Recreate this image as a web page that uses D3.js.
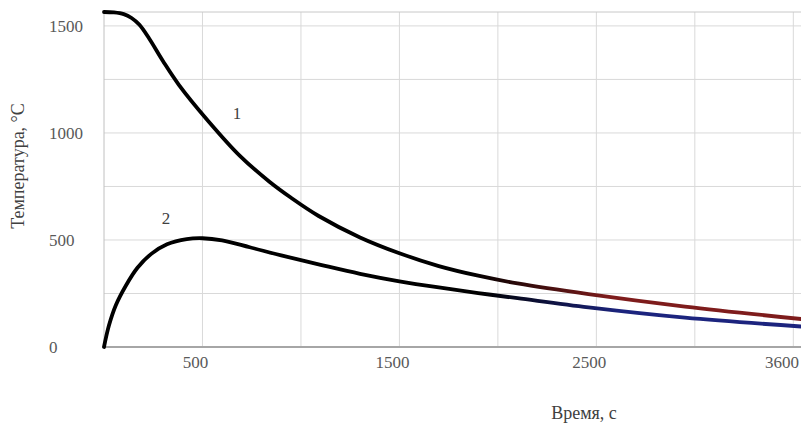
<!DOCTYPE html>
<html>
<head>
<meta charset="utf-8">
<script src="https://cdnjs.cloudflare.com/ajax/libs/d3/7.8.5/d3.min.js"></script>
<style>
  body { margin: 0; background: #fff; }
  text { font-family: "Liberation Serif", "Times New Roman", serif; }
  .grid line { stroke: #d9d9d9; stroke-width: 1; }
</style>
</head>
<body>
<div id="chart"></div>
<script>
    var width = 801,
        height = 427;

    // curve 1 and curve 2 (time in s, temperature in °C)
    var time1 = [0, 50, 100, 140, 180, 230, 300, 380, 530, 690, 840, 950, 1090, 1300, 1500, 1700, 1900, 2100, 2460, 2950, 3600];
    var temp1 = [1565, 1563, 1555, 1537, 1505, 1440, 1335, 1225, 1055, 893, 772, 697, 612, 512, 438, 378, 333, 297, 247, 189, 125];

    var time2 = [0, 25, 60, 110, 170, 240, 320, 420, 500, 600, 740, 900, 1100, 1300, 1500, 1700, 1900, 2100, 2460, 2950, 3600];
    var temp2 = [0, 100, 195, 285, 370, 435, 480, 504, 508, 498, 466, 428, 384, 342, 307, 278, 252, 228, 185, 137, 92];

    var xTicks = [500, 1500, 2500, 3600];
    var yTicks = [0, 500, 1000, 1500];
    var xGrid = [500, 1000, 1500, 2000, 2500, 3000, 3500];
    var yGrid = [250, 500, 750, 1000, 1250, 1500];

    var curveLabels = ["1", "2"];

    var x = d3.scaleLinear().domain([0, 3600]).range([104, 813]);
    var y = d3.scaleLinear().domain([0, 1565]).range([347, 12]);

    var svg = d3.select("#chart").append("svg")
      .attr("width", width)
      .attr("height", height);

    var defs = svg.append("defs");

    function fade(id, to, x1, x2) {
      var g = defs.append("linearGradient")
        .attr("id", id)
        .attr("gradientUnits", "userSpaceOnUse")
        .attr("x1", x1).attr("x2", x2)
        .attr("y1", 0).attr("y2", 0);
      g.append("stop").attr("offset", 0).attr("stop-color", "#000");
      g.append("stop").attr("offset", 1).attr("stop-color", to);
    }
    fade("red", "#7e1c1c", 470, 610);
    fade("blue", "#1c247e", 480, 620);

    // gridlines
    var grid = svg.append("g").attr("class", "grid");
    grid.selectAll(".v").data(xGrid).enter().append("line")
      .attr("x1", d => x(d)).attr("x2", d => x(d))
      .attr("y1", y.range()[1]).attr("y2", y.range()[0]);
    grid.selectAll(".h").data(yGrid).enter().append("line")
      .attr("x1", x(0)).attr("x2", width)
      .attr("y1", d => y(d)).attr("y2", d => y(d));

    // top border of the plot area
    svg.append("line")
      .attr("x1", x(0)).attr("x2", width)
      .attr("y1", 12).attr("y2", 12)
      .attr("stroke", "#c8c8c8");

    // left axis
    svg.append("line")
      .attr("x1", x(0)).attr("x2", x(0))
      .attr("y1", 12).attr("y2", y(0))
      .attr("stroke", "#c0c0c0");

    // bottom axis
    svg.append("line")
      .attr("x1", x(0)).attr("x2", width)
      .attr("y1", y(0)).attr("y2", y(0))
      .attr("stroke", "#a6a6a6")
      .attr("stroke-width", 2);

    // tick labels
    svg.selectAll(".ylab").data(yTicks).enter().append("text")
      .attr("x", 49)
      .attr("y", d => y(d))
      .attr("dy", "0.35em")
      .attr("fill", "#595959")
      .attr("font-size", 17)
      .text(d => d);

    svg.selectAll(".xlab").data(xTicks).enter().append("text")
      .attr("x", d => Math.min(x(d) - 7, 782))
      .attr("y", 362)
      .attr("dy", "0.35em")
      .attr("text-anchor", "middle")
      .attr("fill", "#595959")
      .attr("font-size", 17)
      .text(d => d);

    // axis titles
    svg.append("text")
      .attr("transform", "translate(18,166) rotate(-90)")
      .attr("dy", "0.35em")
      .attr("text-anchor", "middle")
      .attr("fill", "#404040")
      .attr("font-size", 18)
      .text("Температура, °С");

    svg.append("text")
      .attr("x", 584)
      .attr("y", 413)
      .attr("dy", "0.35em")
      .attr("text-anchor", "middle")
      .attr("fill", "#404040")
      .attr("font-size", 18)
      .text("Время, с");

    // curves
    var line = d3.line()
      .x(d => x(d[0]))
      .y(d => y(d[1]))
      .curve(d3.curveCatmullRom.alpha(0.5));

    svg.append("path")
      .datum(d3.zip(time1, temp1))
      .attr("fill", "none")
      .attr("stroke", "url(#red)")
      .attr("stroke-width", 3.8)
      .attr("stroke-linecap", "round")
      .attr("d", line);

    svg.append("path")
      .datum(d3.zip(time2, temp2))
      .attr("fill", "none")
      .attr("stroke", "url(#blue)")
      .attr("stroke-width", 3.8)
      .attr("stroke-linecap", "round")
      .attr("d", line);

    // curve numbers
    svg.append("text")
      .attr("x", 237).attr("y", 113)
      .attr("dy", "0.35em")
      .attr("text-anchor", "middle")
      .attr("fill", "#404040")
      .attr("font-size", 17)
      .text(curveLabels[0]);

    svg.append("text")
      .attr("x", 166).attr("y", 218)
      .attr("dy", "0.35em")
      .attr("text-anchor", "middle")
      .attr("fill", "#404040")
      .attr("font-size", 17)
      .text(curveLabels[1]);
</script>
</body>
</html>
